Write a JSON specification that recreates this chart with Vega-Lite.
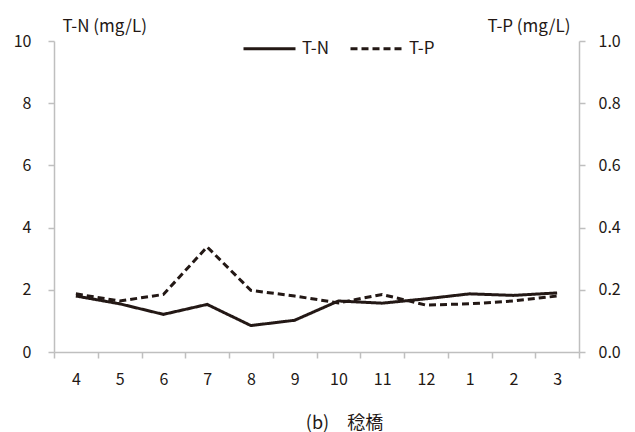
{
  "$schema": "https://vega.github.io/schema/vega-lite/v6.json",
  "width": 525,
  "height": 311,
  "autosize": "none",
  "padding": {"left": 54, "top": 41, "right": 56, "bottom": 80},
  "background": "white",
  "config": {
    "view": {"stroke": null},
    "font": "Noto Sans CJK JP",
    "axis": {
      "labelFont": "Noto Sans CJK JP",
      "titleFont": "Noto Sans CJK JP",
      "labelFontSize": 16,
      "titleFontSize": 17,
      "labelColor": "#231815",
      "titleColor": "#231815",
      "titleFontWeight": "normal",
      "domainColor": "#bfbfbf",
      "tickColor": "#bfbfbf",
      "domainWidth": 1.5,
      "tickWidth": 1.5,
      "grid": false
    },
    "legend": {
      "labelFont": "Noto Sans CJK JP",
      "labelFontSize": 17,
      "labelColor": "#231815"
    }
  },
  "data": {
    "values": [
      {"month": "4", "TN": 1.80, "TP": 0.187},
      {"month": "5", "TN": 1.55, "TP": 0.164},
      {"month": "6", "TN": 1.21, "TP": 0.185},
      {"month": "7", "TN": 1.53, "TP": 0.338},
      {"month": "8", "TN": 0.85, "TP": 0.198},
      {"month": "9", "TN": 1.02, "TP": 0.180},
      {"month": "10", "TN": 1.64, "TP": 0.158},
      {"month": "11", "TN": 1.57, "TP": 0.185},
      {"month": "12", "TN": 1.71, "TP": 0.151},
      {"month": "1", "TN": 1.87, "TP": 0.155},
      {"month": "2", "TN": 1.82, "TP": 0.164},
      {"month": "3", "TN": 1.90, "TP": 0.180}
    ]
  },
  "encoding": {
    "x": {
      "field": "month",
      "type": "nominal",
      "sort": null,
      "scale": {"paddingInner": 0, "paddingOuter": 0},
      "axis": {
        "labelAngle": 0,
        "tickBand": "extent",
        "tickSize": 6,
        "labelPadding": 13,
        "title": "(b)　稔橋",
        "titleFontSize": 18,
        "titleX": 290,
        "titleY": 76,
        "titleAlign": "center",
        "titleBaseline": "alphabetic"
      }
    }
  },
  "layer": [
    {
      "mark": {"type": "line", "color": "#231815", "strokeWidth": 3},
      "encoding": {
        "y": {
          "field": "TN",
          "type": "quantitative",
          "scale": {"domain": [0, 10], "nice": false},
          "axis": {
            "values": [0, 2, 4, 6, 8, 10],
            "tickSize": 6,
            "labelPadding": 17,
            "title": "T-N (mg/L)",
            "titleAngle": 0,
            "titleX": 8,
            "titleY": -10,
            "titleAlign": "left",
            "titleBaseline": "alphabetic"
          }
        },
        "strokeDash": {
          "datum": "T-N",
          "scale": {"domain": ["T-N", "T-P"], "range": [[1, 0], [7, 4]]},
          "legend": {
            "title": null,
            "orient": "none",
            "direction": "horizontal",
            "legendX": 188,
            "legendY": -20,
            "symbolType": "stroke",
            "symbolSize": 2704,
            "symbolStrokeWidth": 3,
            "symbolStrokeColor": "#231815",
            "labelOffset": 5,
            "columnPadding": 15
          }
        }
      }
    },
    {
      "mark": {"type": "line", "color": "#231815", "strokeWidth": 3},
      "encoding": {
        "y": {
          "field": "TP",
          "type": "quantitative",
          "scale": {"domain": [0, 1], "nice": false},
          "axis": {
            "orient": "right",
            "values": [0, 0.2, 0.4, 0.6, 0.8, 1.0],
            "format": ".1f",
            "tickSize": 6,
            "labelPadding": 13,
            "title": "T-P (mg/L)",
            "titleAngle": 0,
            "titleX": -9,
            "titleY": -10,
            "titleAlign": "right",
            "titleBaseline": "alphabetic"
          }
        },
        "strokeDash": {"datum": "T-P"}
      }
    }
  ],
  "resolve": {"scale": {"y": "independent"}}
}
